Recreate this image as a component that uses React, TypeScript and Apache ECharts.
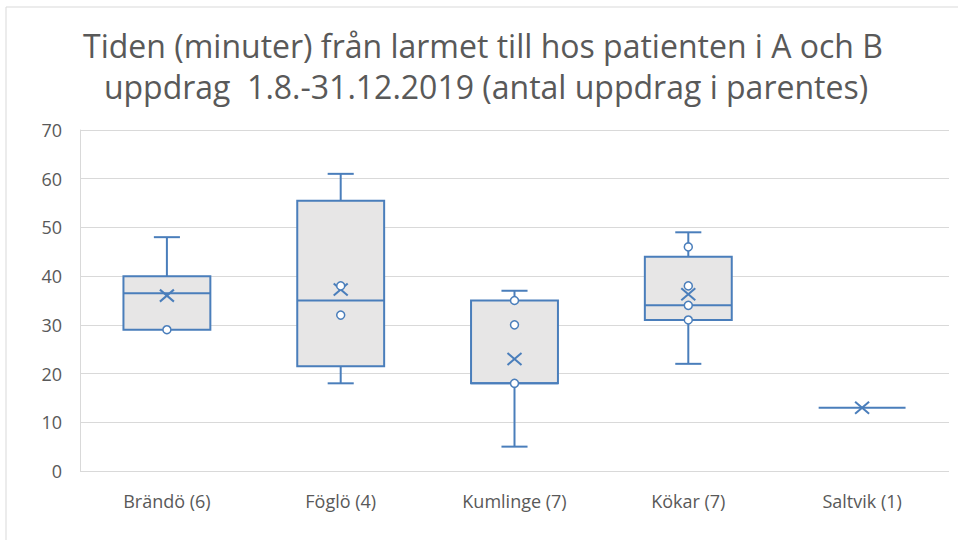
import React, { useEffect, useRef } from "react";
import * as echarts from "echarts";

const categories = ["Brändö (6)", "Föglö (4)", "Kumlinge (7)", "Kökar (7)", "Saltvik (1)"];
const whiskerMin = [29, 18, 5, 22, 13];
const quartile1 = [29, 21.5, 18, 31, 13];
const medians = [36.5, 35, 18, 34, 13];
const quartile3 = [40, 55.5, 35, 44, 13];
const whiskerMax = [48, 61, 37, 49, 13];
const means = [36, 37.25, 23, 36.3, 13];
const innerPoints = [[29], [32, 38], [18, 30, 35], [31, 34, 38, 46], []];
const yTicks = [0, 10, 20, 30, 40, 50, 60, 70];
const titleLines = [
  "Tiden (minuter) från larmet till hos patienten i A och B",
  "uppdrag  1.8.-31.12.2019 (antal uppdrag i parentes)",
];

const BLUE = "#4A7EBB";
const TEXT = "#595959";
const FONT = "Open Sans";

export default function App() {
  const ref = useRef<HTMLDivElement>(null);
  useEffect(() => {
    if (!ref.current) return;
    const chart = echarts.init(ref.current, null, { renderer: "svg" });
    const boxData = categories.map((_, i) => [
      i,
      whiskerMin[i],
      quartile1[i],
      medians[i],
      quartile3[i],
      whiskerMax[i],
      means[i],
    ]);
    const pointData: number[][] = [];
    innerPoints.forEach((pts, i) => pts.forEach((v) => pointData.push([i, v])));

    const renderItem = (params: any, api: any) => {
      const i = api.value(0);
      const vMin = api.value(1);
      const vQ1 = api.value(2);
      const vMed = api.value(3);
      const vQ3 = api.value(4);
      const vMax = api.value(5);
      const vMean = api.value(6);
      const band = api.size([1, 0])[0];
      const boxW = band * 0.5;
      const capW = band * 0.15;
      const x = api.coord([i, vMed])[0];
      const y = (v: number) => api.coord([i, v])[1];
      const lineStyle = { stroke: BLUE, lineWidth: 2, fill: null };
      const children: any[] = [];
      if (vMax > vQ3) {
        children.push({ type: "line", shape: { x1: x, y1: y(vMax), x2: x, y2: y(vQ3) }, style: lineStyle });
        children.push({ type: "line", shape: { x1: x - capW / 2, y1: y(vMax), x2: x + capW / 2, y2: y(vMax) }, style: lineStyle });
      }
      if (vMin < vQ1) {
        children.push({ type: "line", shape: { x1: x, y1: y(vMin), x2: x, y2: y(vQ1) }, style: lineStyle });
        children.push({ type: "line", shape: { x1: x - capW / 2, y1: y(vMin), x2: x + capW / 2, y2: y(vMin) }, style: lineStyle });
      }
      if (vQ3 > vQ1) {
        children.push({
          type: "rect",
          shape: { x: x - boxW / 2, y: y(vQ3), width: boxW, height: y(vQ1) - y(vQ3) },
          style: { fill: "#E7E6E6", stroke: BLUE, lineWidth: 2 },
        });
      }
      children.push({ type: "line", shape: { x1: x - boxW / 2, y1: y(vMed), x2: x + boxW / 2, y2: y(vMed) }, style: lineStyle });
      const ym = y(vMean);
      const hx = 7;
      const hy = 6;
      children.push({ type: "line", shape: { x1: x - hx, y1: ym - hy, x2: x + hx, y2: ym + hy }, style: lineStyle });
      children.push({ type: "line", shape: { x1: x - hx, y1: ym + hy, x2: x + hx, y2: ym - hy }, style: lineStyle });
      return { type: "group", children };
    };

    chart.setOption({
      animation: false,
      backgroundColor: "#ffffff",
      grid: { left: 80, right: 9, top: 130, bottom: 69, containLabel: false },
      graphic: [
        {
          type: "rect",
          shape: { x: 6, y: 7, width: 1000, height: 1000 },
          style: { fill: null, stroke: "#D9D9D9", lineWidth: 1 },
          silent: true,
        },
        {
          type: "text",
          x: 483,
          y: 45,
          style: {
            text: titleLines[0],
            fill: TEXT,
            font: `32px "${FONT}"`,
            textAlign: "center",
            textVerticalAlign: "middle",
          },
        },
        {
          type: "text",
          x: 486,
          y: 86,
          style: {
            text: titleLines[1],
            fill: TEXT,
            font: `32px "${FONT}"`,
            textAlign: "center",
            textVerticalAlign: "middle",
          },
        },
      ],
      xAxis: {
        type: "category",
        data: categories,
        axisLine: { show: false },
        axisTick: { show: false },
        axisLabel: { color: TEXT, fontSize: 18, fontFamily: FONT, margin: 21 },
        splitLine: { show: false },
      },
      yAxis: {
        type: "value",
        min: yTicks[0],
        max: yTicks[yTicks.length - 1],
        interval: 10,
        axisLine: { show: true, lineStyle: { color: "#D9D9D9", width: 1 } },
        axisTick: { show: false },
        axisLabel: { color: TEXT, fontSize: 18, fontFamily: FONT, margin: 18 },
        splitLine: { show: true, lineStyle: { color: "#D9D9D9", width: 1 } },
      },
      series: [
        {
          type: "custom",
          renderItem,
          data: boxData,
          encode: { x: 0, y: [1, 2, 3, 4, 5, 6] },
          z: 2,
        },
        {
          type: "scatter",
          data: pointData,
          symbol: "circle",
          symbolSize: 8,
          itemStyle: { color: "#ffffff", borderColor: BLUE, borderWidth: 1.5, opacity: 1 },
          z: 3,
        },
      ],
    });
    return () => chart.dispose();
  }, []);
  return (
    <div
      ref={ref}
      style={{ position: "fixed", left: 0, top: 0, width: 958, height: 540, background: "#fff" }}
    />
  );
}
